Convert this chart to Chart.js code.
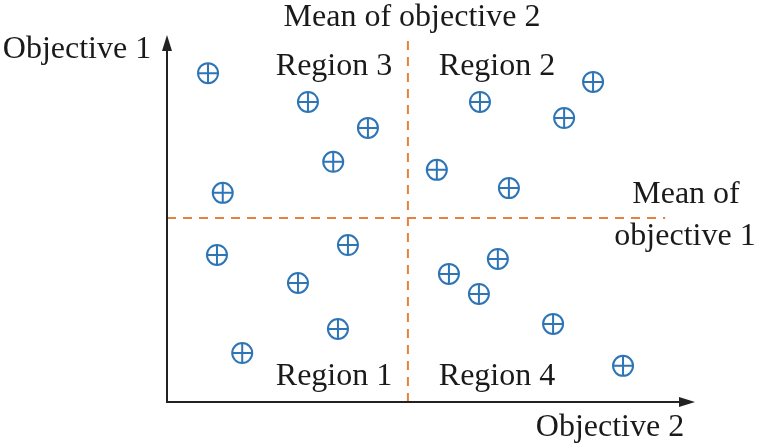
<!DOCTYPE html>
<html>
<head>
<meta charset="utf-8">
<script src="https://cdn.jsdelivr.net/npm/chart.js@4.4.1/dist/chart.umd.min.js"></script>
<style>
  html, body { margin: 0; padding: 0; background: #fff; }
  #wrap { width: 761px; height: 448px; }
</style>
</head>
<body>
<div id="wrap"><canvas id="chart" width="761" height="448"></canvas></div>
<script>
// Datos (escala 0-100 en ambos ejes)
const obj2Values = [7.8, 26.8, 38.2, 31.6, 10.6, 59.5, 81.0, 75.5, 51.3, 65.0,
                    9.5, 34.4, 24.9, 32.5, 14.3, 53.6, 62.9, 59.3, 73.4, 86.7];
const obj1Values = [90.1, 82.2, 75.1, 65.8, 57.3, 82.2, 87.7, 77.8, 63.6, 58.6,
                    40.3, 43.0, 32.6, 20.0, 13.4, 35.1, 39.2, 29.6, 21.4, 9.9];
const meanObj2 = 45.8;   // línea vertical
const meanObj1 = 50.4;   // línea horizontal
const dashEnd = [94.7, 99];  // fin de la línea horizontal (x) y de la vertical (y)

const puntos = obj2Values.map((x, i) => ({ x: x, y: obj1Values[i] }));

const azul = '#2e75b6';
const naranja = '#e4813f';
const serif = '"Liberation Serif", "DejaVu Serif", serif';

// Ejes con flechas, líneas de media y textos
const decoraciones = {
  id: 'decoraciones',
  beforeDatasetsDraw(chart) {
    const ctx = chart.ctx;
    const a = chart.chartArea;
    const xs = chart.scales.x, ys = chart.scales.y;
    ctx.save();
    // líneas de media
    ctx.strokeStyle = naranja;
    ctx.lineWidth = 2;
    ctx.setLineDash([9, 7]);
    ctx.beginPath();
    ctx.moveTo(xs.getPixelForValue(meanObj2), a.bottom);
    ctx.lineTo(xs.getPixelForValue(meanObj2), ys.getPixelForValue(dashEnd[1]));
    ctx.stroke();
    ctx.beginPath();
    ctx.moveTo(a.left, ys.getPixelForValue(meanObj1));
    ctx.lineTo(xs.getPixelForValue(dashEnd[0]), ys.getPixelForValue(meanObj1));
    ctx.stroke();
    ctx.setLineDash([]);

    // ejes
    ctx.strokeStyle = '#222';
    ctx.fillStyle = '#222';
    ctx.lineWidth = 2;
    ctx.beginPath();
    ctx.moveTo(a.left, a.top + 8);
    ctx.lineTo(a.left, a.bottom);
    ctx.lineTo(a.right - 8, a.bottom);
    ctx.stroke();
    ctx.beginPath();
    ctx.moveTo(a.left, a.top - 2);
    ctx.lineTo(a.left - 5, a.top + 14);
    ctx.lineTo(a.left + 5, a.top + 14);
    ctx.closePath();
    ctx.fill();
    ctx.beginPath();
    ctx.moveTo(a.right + 2, a.bottom);
    ctx.lineTo(a.right - 14, a.bottom - 5);
    ctx.lineTo(a.right - 14, a.bottom + 5);
    ctx.closePath();
    ctx.fill();

    // textos
    ctx.fillStyle = '#1a1a1a';
    ctx.font = '32px ' + serif;
    ctx.textBaseline = 'middle';
    ctx.textAlign = 'center';
    ctx.fillText('Mean of objective 2', 412, 18);
    ctx.fillText('Region 3', 334, 67);
    ctx.fillText('Region 2', 497, 67);
    ctx.fillText('Region 1', 334, 377);
    ctx.fillText('Region 4', 497, 377);
    ctx.fillText('Mean of', 686, 195);
    ctx.fillText('objective 1', 685, 237);
    ctx.fillText('Objective 2', 610, 428);
    ctx.fillText('Objective 1', 77, 50);
    ctx.restore();
  }
};

new Chart(document.getElementById('chart'), {
  type: 'scatter',
  data: {
    datasets: [{
      label: 'Cruz',
      data: puntos,
      pointStyle: 'cross',
      pointRadius: 10,
      pointBorderWidth: 2,
      pointBorderColor: azul,
      clip: false
    }, {
      label: 'Soluciones',
      data: puntos,
      pointStyle: 'circle',
      pointRadius: 10,
      pointBorderWidth: 2,
      pointBorderColor: azul,
      pointBackgroundColor: 'rgba(255,255,255,0)',
      clip: false
    }]
  },
  options: {
    responsive: false,
    animation: false,
    layout: { padding: { left: 167, right: 68, top: 37, bottom: 46 } },
    plugins: { legend: { display: false }, tooltip: { enabled: false } },
    scales: {
      x: { display: false, min: 0, max: 100 },
      y: { display: false, min: 0, max: 100 }
    }
  },
  plugins: [decoraciones]
});
</script>
</body>
</html>
